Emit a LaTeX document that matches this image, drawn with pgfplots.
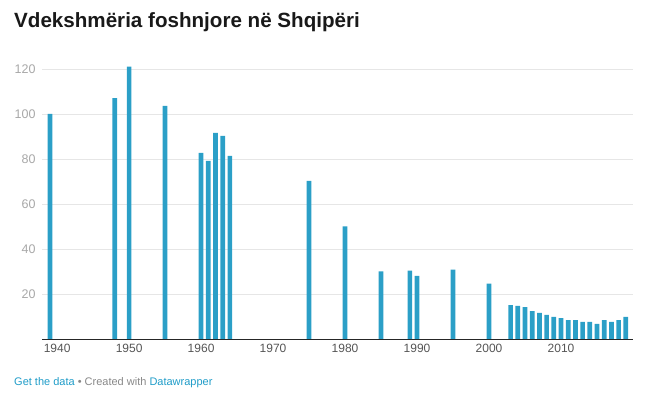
\documentclass[border=0pt]{standalone}
\usepackage{pgfplots}
\pgfplotsset{compat=1.18}
\usepackage{fontspec}
\setmainfont{Liberation Sans}
\definecolor{barc}{HTML}{2B9FC7}
\definecolor{gridc}{HTML}{E6E6E6}
\definecolor{ylab}{HTML}{A8A8A8}
\definecolor{xlab}{HTML}{555555}
\definecolor{link}{HTML}{1F9CC8}
\definecolor{foot}{HTML}{888888}
\begin{document}
\begin{tikzpicture}[x=1pt,y=1pt]
\useasboundingbox (0,0) rectangle (652,395);
\node[anchor=base west, inner sep=0pt, font=\bfseries\fontsize{20.6}{24}\selectfont, text=black!90] at (14,367) {Vdekshmëria foshnjore në Shqipëri};
\begin{axis}[
  at={(42pt,56pt)}, anchor=south west,
  scale only axis, width=591pt, height=281.25pt,
  xmin=1937.9, xmax=2020, ymin=0, ymax=125,
  separate axis lines,
  axis x line*=bottom, axis y line*=left,
  x axis line style={black!85, line width=0.9pt, -},
  y axis line style={draw=none},
  xtick={1940,1950,...,2010}, ytick={20,40,...,120},
  major tick length=0pt,
  ymajorgrids, grid style={gridc, line width=0.6pt},
  xticklabel style={text=xlab, font=\fontsize{12}{14}\selectfont, yshift=-2pt},
  yticklabel style={text=ylab, font=\fontsize{12.5}{14}\selectfont, xshift=-3pt},
  /pgf/number format/1000 sep={},
  /pgf/number format/assume math mode=true,
  ybar, bar width=4.7pt,
]
\addplot[fill=barc, draw=none] coordinates {
(1939,100) (1948,107) (1950,121) (1955,103.6)
(1960,82.7) (1961,79.2) (1962,91.6) (1963,90.3) (1964,81.4)
(1975,70.3) (1980,50) (1985,30) (1989,30.4) (1990,28.1) (1995,30.8) (2000,24.6)
(2003,15.1) (2004,14.7) (2005,14.2) (2006,12.4) (2007,11.6) (2008,10.7) (2009,9.8)
(2010,9.3) (2011,8.4) (2012,8.4) (2013,7.6) (2014,7.6) (2015,6.7) (2016,8.4)
(2017,7.6) (2018,8.4) (2019,9.8)
};
\end{axis}
\node[anchor=base west, inner sep=0pt, font=\fontsize{11}{12}\selectfont] at (14,9) {\textcolor{link}{Get the data}\textcolor{foot}{\ •\ Created with\ }\textcolor{link}{Datawrapper}};
\end{tikzpicture}
\end{document}
